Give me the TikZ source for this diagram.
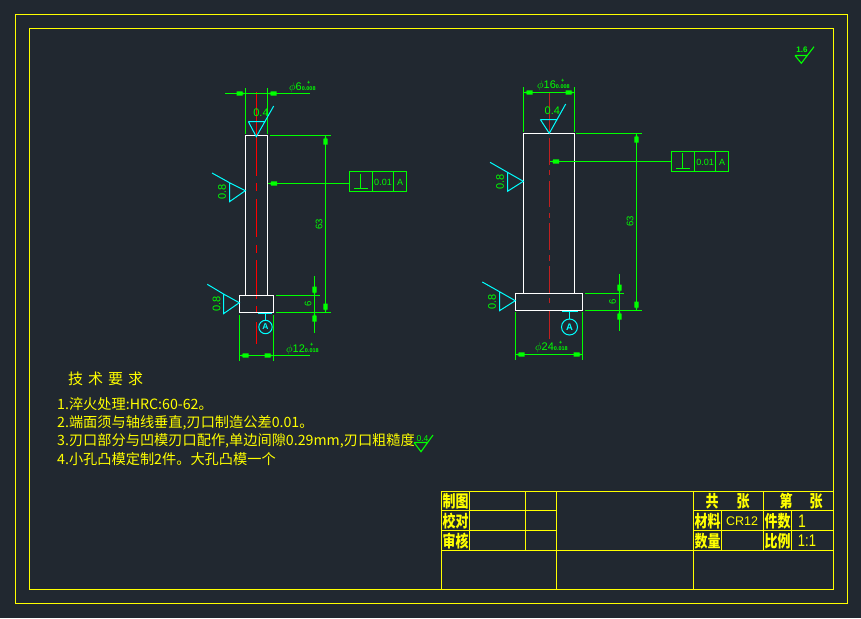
\documentclass[tikz,border=0pt]{standalone}
\usepackage{fontspec}
\usepackage{graphicx}
\setmainfont{Liberation Sans}
\newfontfamily\cjk{Noto Sans CJK SC}
\definecolor{bgc}{HTML}{212830}
\definecolor{grn}{HTML}{00FF00}
\definecolor{cyn}{HTML}{00FFFF}
\definecolor{yel}{HTML}{FFFF00}
\definecolor{redd}{HTML}{FF0000}
\definecolor{redb}{HTML}{C02020}
\tikzset{
  dimline/.style={grn,line width=1.1pt},
  partline/.style={white,line width=1.3pt},
  rough/.style={cyn,line width=1pt},
  tbl/.style={yel,line width=1.3pt},
  lbl/.style={text=grn,inner sep=0pt,font=\fontsize{11}{11}\selectfont},
  dimtxt/.style={text=grn,inner sep=0pt,font=\fontsize{9.5}{9.5}\selectfont},
  ttl/.style={text=yel,inner sep=0pt,font=\cjk\bfseries\fontsize{13}{13}\selectfont},
  note/.style={text=yel,inner sep=0pt,anchor=west,font=\cjk\fontsize{14.2}{15}\selectfont},
}
\newcommand{\ahead}[4]{% tip x,y ; direction dx,dy (unit into tail)
  \fill[grn] (#1,#2) -- ({#1+3*#3-1.0*#4},{#2+3*#4-1.0*#3}) -- ({#1+3*#3-2.2*#4},{#2+3*#4-2.2*#3}) -- ({#1+9*#3-2.2*#4},{#2+9*#4-2.2*#3})
   -- ({#1+9*#3+2.2*#4},{#2+9*#4+2.2*#3}) -- ({#1+3*#3+2.2*#4},{#2+3*#4+2.2*#3}) -- ({#1+3*#3+1.0*#4},{#2+3*#4+1.0*#3}) -- cycle;}
\newcommand{\tol}[1]{{\fontsize{5.5}{5.5}\selectfont\bfseries #1}}
\newcommand{\tallcjk}[1]{\scalebox{1}[1.28]{#1}}
\begin{document}
\begin{tikzpicture}[x=1pt,y=-1pt]
\useasboundingbox (0,0) rectangle (861,618);
\fill[bgc] (0,0) rectangle (861,618);
% sheet
\draw[tbl] (15.5,14.5) rectangle (847.5,603.5);
\draw[tbl] (29.5,28.5) rectangle (833.5,589.5);
% ---- left part
\draw[redd,line width=1.2pt] (256.5,92)--(256.5,176) (256.5,183)--(256.5,191) (256.5,199)--(256.5,237) (256.5,245)--(256.5,253) (256.5,260)--(256.5,299) (256.5,306)--(256.5,313) (256.5,322)--(256.5,344);
\draw[partline] (245.5,295.5)--(245.5,135.5)--(267.5,135.5)--(267.5,295.5);
\draw[partline] (239.5,295.5) rectangle (273.5,312.5);
% dims
\draw[dimline] (225,93.5)--(310,93.5) (245.5,88)--(245.5,134) (267.5,88)--(267.5,134);
\ahead{245.5}{93.5}{-1}{0}\ahead{267.5}{93.5}{1}{0}
\node[lbl,anchor=west] (t1) at (289,87) {$\phi$6\tol{\shortstack{+\\0.008}}};
\draw[dimline] (270,135.5)--(331,135.5) (325.5,135.5)--(325.5,312.5) (276,312.5)--(331,312.5) (276,295.5)--(320,295.5) (314.5,276)--(314.5,332.7);
\ahead{325.5}{135.5}{0}{1}\ahead{325.5}{312.5}{0}{-1}
\ahead{314.5}{295.5}{0}{-1}\ahead{314.5}{312.5}{0}{1}
\node[dimtxt,rotate=90] (t2) at (319,224) {63};
\node[dimtxt,rotate=90] (t3) at (308,304) {6};
\draw[dimline] (239.5,355.5)--(310,355.5) (239.5,315)--(239.5,360.7) (273.5,315)--(273.5,360.7);
\ahead{239.5}{355.5}{1}{0}\ahead{273.5}{355.5}{-1}{0}
\node[lbl,anchor=west] (t4) at (286,349) {$\phi$12\tol{\shortstack{+\\0.018}}};
% FCF
\draw[dimline] (349.5,171.5) rectangle (406.5,191.5) (372.5,171.5)--(372.5,191.5) (393.5,171.5)--(393.5,191.5);
\draw[dimline] (349.5,183.5)--(268,183.5) (360.5,174)--(360.5,188.5) (354,188.5)--(367.7,188.5);
\ahead{268}{183.5}{1}{0}
\node[lbl,font=\fontsize{9}{9}\selectfont] (f1) at (383,182.5) {0.01};
\node[lbl,font=\fontsize{9}{9}\selectfont] (f2) at (400,182.5) {A};
% roughness
\draw[rough] (248.3,121.5)--(265.7,121.5) (248.3,121.5)--(256.3,136.7)--(273.7,106);
\node[lbl] (r1) at (261,113) {0.4};
\draw[rough] (212,173)--(229.5,182.7)--(245.3,190.7)--(229.5,201.7)--(229.5,182.7);
\node[lbl,rotate=90] (r2) at (222,191.7) {0.8};
\draw[rough] (207.3,284.3)--(223.5,294)--(239.3,302.7)--(223.5,313.7)--(223.5,294);
\node[lbl,rotate=90] (r3) at (216.7,304) {0.8};
% datum
\draw[rough] (258,313.5)--(272,313.5) (265.5,313.5)--(265.5,320.3);
\draw[rough] (265.5,327) circle (6.7);
\node[text=cyn,inner sep=0pt,font=\bfseries\fontsize{8.5}{8.5}\selectfont] (d1) at (265.5,327) {A};
% ---- right part
\draw[redb,line width=1pt] (549.5,93.3)--(549.5,133) (549.5,138)--(549.5,165) (549.5,170)--(549.5,175) (549.5,181)--(549.5,206.7) (549.5,213)--(549.5,218) (549.5,223)--(549.5,250) (549.5,255)--(549.5,260.7) (549.5,266)--(549.5,292.7) (549.5,298)--(549.5,302.7) (549.5,310)--(549.5,339);
\draw[partline] (523.5,293.5)--(523.5,133.5)--(574.5,133.5)--(574.5,293.5);
\draw[partline] (515.5,293.5) rectangle (582.5,310.5);
\draw[dimline] (523.5,92.5)--(574.5,92.5) (523.5,87.3)--(523.5,131.7) (574.5,87.3)--(574.5,131.7);
\ahead{523.5}{92.5}{1}{0}\ahead{574.5}{92.5}{-1}{0}
\node[lbl,anchor=west] (t5) at (537,85) {$\phi$16\tol{\shortstack{+\\0.008}}};
\draw[dimline] (576,133.5)--(641.7,133.5) (636.5,133.5)--(636.5,310.5) (585,310.5)--(641.7,310.5) (585,293.5)--(624,293.5) (619.5,274)--(619.5,330.7);
\ahead{636.5}{133.5}{0}{1}\ahead{636.5}{310.5}{0}{-1}
\ahead{619.5}{293.5}{0}{-1}\ahead{619.5}{310.5}{0}{1}
\node[dimtxt,rotate=90] (t6) at (630,221) {63};
\node[dimtxt,rotate=90] (t7) at (612.7,301.7) {6};
\draw[dimline] (515.5,354.5)--(582.5,354.5) (515.5,311.7)--(515.5,360) (582.5,311.7)--(582.5,360);
\ahead{515.5}{354.5}{1}{0}\ahead{582.5}{354.5}{-1}{0}
\node[lbl,anchor=west] (t8) at (535,347) {$\phi$24\tol{\shortstack{+\\0.018}}};
\draw[dimline] (671.5,151.5) rectangle (728.5,171.5) (694.5,151.5)--(694.5,171.5) (715.5,151.5)--(715.5,171.5);
\draw[dimline] (671.5,161.5)--(550,161.5) (682.5,153)--(682.5,168.5) (676,168.5)--(690,168.5);
\ahead{550}{161.5}{1}{0}
\node[lbl,font=\fontsize{9}{9}\selectfont] (f3) at (705,162) {0.01};
\node[lbl,font=\fontsize{9}{9}\selectfont] (f4) at (722,162) {A};
\draw[rough] (540.3,119.5)--(557.7,119.5) (540.3,119.5)--(549.3,133.3)--(565.7,104);
\node[lbl] (r4) at (552.3,111) {0.4};
\draw[rough] (490,162.3)--(507.5,172.3)--(523.3,181.3)--(507.5,191.3)--(507.5,172.3);
\node[lbl,rotate=90] (r5) at (500,181.7) {0.8};
\draw[rough] (482.3,282)--(499.5,291.7)--(515.3,300.7)--(499.5,310.7)--(499.5,291.7);
\node[lbl,rotate=90] (r6) at (492,301.7) {0.8};
\draw[rough] (562,311.5)--(577.7,311.5) (569.5,311.5)--(569.5,319);
\draw[rough] (569.5,327) circle (8);
\node[text=cyn,inner sep=0pt,font=\bfseries\fontsize{9.5}{9.5}\selectfont] (d2) at (569.5,327) {A};
% top right roughness
\draw[dimline] (795,55.5)--(807,55.5) (795,55.5)--(801.3,63.3)--(814,46.7);
\node[lbl,font=\bfseries\fontsize{8}{8}\selectfont] (r7) at (802,50) {1.6};
% notes
\node[note,font=\cjk\fontsize{15}{15}\selectfont] (n0) at (68,379) {技\,\,术\,\,要\,\,求};
\node[note] (n1) at (57,404) {1.淬火处理:HRC:60-62。};
\node[note] (n2) at (57,423) {2.端面须与轴线垂直,刃口制造公差0.01。};
\node[note] (n3) at (57,441) {3.刃口部分与凹模刃口配作,单边间隙0.29mm,刃口粗糙度};
\node[note] (n4) at (57,459) {4.小孔凸模定制2件。大孔凸模一个};
\draw[dimline] (414,442.5)--(428,442.5) (414,442.5)--(421,451.7)--(433,435);
\node[lbl,font=\fontsize{8.5}{8.5}\selectfont] (r8) at (422.5,438.7) {0.4};
% title block
\draw[tbl] (441.5,491.5) rectangle (833.5,589.5);
\draw[tbl] (441.5,510.5)--(556.5,510.5) (441.5,530.5)--(556.5,530.5) (441.5,550.5)--(833.5,550.5)
 (693.5,510.5)--(833.5,510.5) (693.5,530.5)--(833.5,530.5)
 (469.5,491.5)--(469.5,550.5) (525.5,491.5)--(525.5,550.5) (556.5,491.5)--(556.5,589.5) (693.5,491.5)--(693.5,589.5)
 (763.5,491.5)--(763.5,550.5) (721.5,510.5)--(721.5,550.5) (791.5,510.5)--(791.5,550.5);
\node[ttl] (a1) at (455.5,501) {\tallcjk{制图}};
\node[ttl] (a2) at (455.5,521) {\tallcjk{校对}};
\node[ttl] (a3) at (455.5,541) {\tallcjk{审核}};
\node[ttl] (b1) at (712,501) {\tallcjk{共}};
\node[ttl] (b2) at (743,501) {\tallcjk{张}};
\node[ttl] (b3) at (786,501) {\tallcjk{第}};
\node[ttl] (b4) at (816,501) {\tallcjk{张}};
\node[ttl] (c1) at (707.5,521) {\tallcjk{材料}};
\node[ttl] (c2) at (707.5,541) {\tallcjk{数量}};
\node[ttl] (c3) at (777.5,521) {\tallcjk{件数}};
\node[ttl] (c4) at (777.5,541) {\tallcjk{比例}};
\node[text=yel,inner sep=0pt,font=\fontsize{12.5}{12.5}\selectfont] (v1) at (742,521) {CR12};
\node[text=yel,inner sep=0pt] (v2) at (802,521) {\scalebox{1}[1.3]{\fontsize{14}{14}\selectfont 1}};
\node[text=yel,inner sep=0pt] (v3) at (807,541) {\scalebox{1}[1.3]{\fontsize{13}{13}\selectfont 1:1}};
\end{tikzpicture}
\end{document}
